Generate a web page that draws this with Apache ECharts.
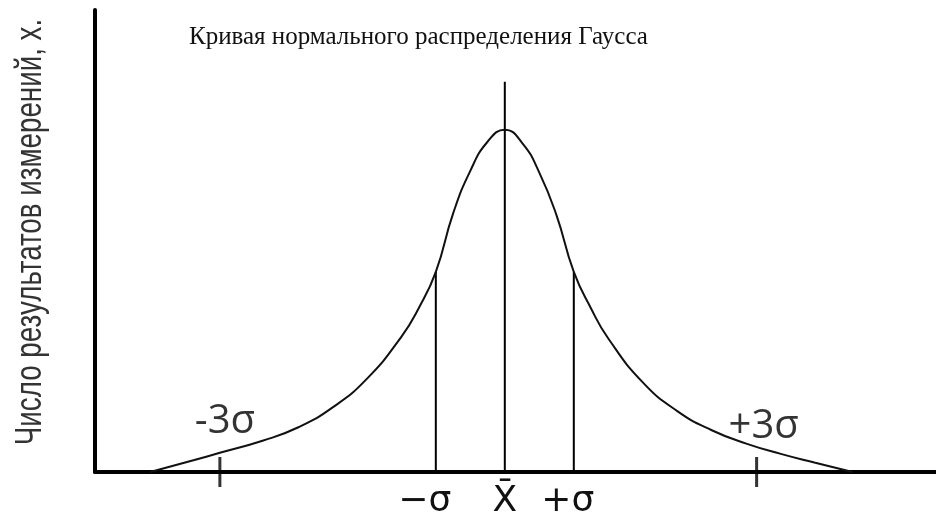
<!DOCTYPE html>
<html>
<head>
<meta charset="utf-8">
<script src="https://cdn.jsdelivr.net/npm/echarts@6/dist/echarts.min.js"></script>
<style>
  html, body { margin: 0; padding: 0; background: #fff; }
  #chart { width: 936px; height: 519px; }
</style>
</head>
<body>
<div id="chart"></div>
<script>
// Bell curve, x in units of sigma from the mean, y relative to the peak height
const curveX = [-5.14, -4.5, -4.13, -3.5, -3.0, -2.5, -2.0, -1.5, -1.25, -1.0, -0.75, -0.5, -0.25, 0,
                0.25, 0.5, 0.75, 1.0, 1.25, 1.5, 2.0, 2.5, 3.0, 3.5, 4.0, 4.5, 5.04];
const curveY = [0, 0.035, 0.056, 0.092, 0.13, 0.188, 0.272, 0.395, 0.478, 0.585, 0.755, 0.88, 0.965, 1.0,
                0.962, 0.875, 0.75, 0.585, 0.478, 0.39, 0.262, 0.178, 0.122, 0.083, 0.053, 0.027, 0];

// Vertical guides at -sigma, mean, +sigma and their heights
const guideX = [-1, 0, 1];
const guideTop = [0.585, 1.14, 0.585];

// Bottom labels under the guides
const guideLabels = ['\u2212\u03c3', 'X\u0304', '+\u03c3'];

// Three-sigma marks on the axis and their labels
const markX = [-4.13, 3.65];
const markLabels = ['-3\u03c3', '+3\u03c3'];

const titleText = 'Кривая нормального распределения Гаусса';
const yTitle = 'Число результатов измерений, х.';

const chart = echarts.init(document.getElementById('chart'), null, { renderer: 'canvas' });

const guideSeries = guideX.map((gx, i) => ({
  type: 'line',
  data: [[gx, 0], [gx, guideTop[i]]],
  symbol: 'none',
  silent: true,
  lineStyle: { color: '#000', width: 2 },
  z: 3
}));

// shift the sigma labels slightly left of their guides
const labelRich = {
  l: { fontFamily: 'DejaVu Sans', fontSize: 36, color: '#111', padding: [0, 22, 0, 0] },
  m: { fontFamily: 'DejaVu Sans', fontSize: 36, color: '#111' },
  r: { fontFamily: 'DejaVu Sans', fontSize: 36, color: '#111', padding: [0, 12, 0, 0] }
};
const richKeys = ['l', 'm', 'r'];

chart.setOption({
  animation: false,
  backgroundColor: '#ffffff',
  title: {
    text: titleText,
    left: 184,
    top: 20,
    textStyle: { fontFamily: 'Liberation Serif', fontSize: 25, fontWeight: 'normal', color: '#111' }
  },
  grid: { left: 95, right: 0, top: 10, bottom: 47, containLabel: false, outerBoundsMode: 'none' },
  xAxis: {
    type: 'value',
    min: -5.94,
    max: 6.25,
    splitLine: { show: false },
    axisTick: { show: false },
    axisLine: { show: true, onZero: false, lineStyle: { color: '#000', width: 4 } },
    axisLabel: {
      show: true,
      customValues: guideX,
      formatter: v => {
        const i = guideX.indexOf(v);
        return i < 0 ? '' : '{' + richKeys[i] + '|' + guideLabels[i] + '}';
      },
      rich: labelRich,
      margin: 12
    }
  },
  yAxis: {
    type: 'value',
    min: 0,
    max: 1.35,
    splitLine: { show: false },
    axisTick: { show: false },
    axisLabel: { show: false },
    axisLine: { show: true, onZero: false, lineStyle: { color: '#000', width: 4 } }
  },
  graphic: [{
    type: 'text',
    x: 31,
    y: 232,
    rotation: Math.PI / 2,
    scaleX: 0.75,
    style: {
      text: yTitle,
      fontFamily: 'Liberation Sans',
      fontSize: 37,
      fill: '#333',
      textAlign: 'center',
      textVerticalAlign: 'middle'
    }
  }],
  series: [
    {
      type: 'line',
      data: curveX.map((x, i) => [x, curveY[i]]),
      smooth: 0.5,
      symbol: 'none',
      silent: true,
      lineStyle: { color: '#111', width: 2 },
      z: 4
    },
    ...guideSeries,
    {
      type: 'scatter',
      symbol: 'rect',
      symbolSize: [3, 30],
      itemStyle: { color: '#000' },
      silent: true,
      z: 5,
      data: markX.map((x, i) => ({
        value: [x, 0],
        label: {
          show: true,
          formatter: markLabels[i],
          position: 'inside',
          offset: [i === 0 ? 5 : 7, i === 0 ? -50 : -45],
          fontFamily: 'Open Sans',
          fontSize: 40,
          color: '#000'
        }
      }))
    }
  ]
});
</script>
</body>
</html>
